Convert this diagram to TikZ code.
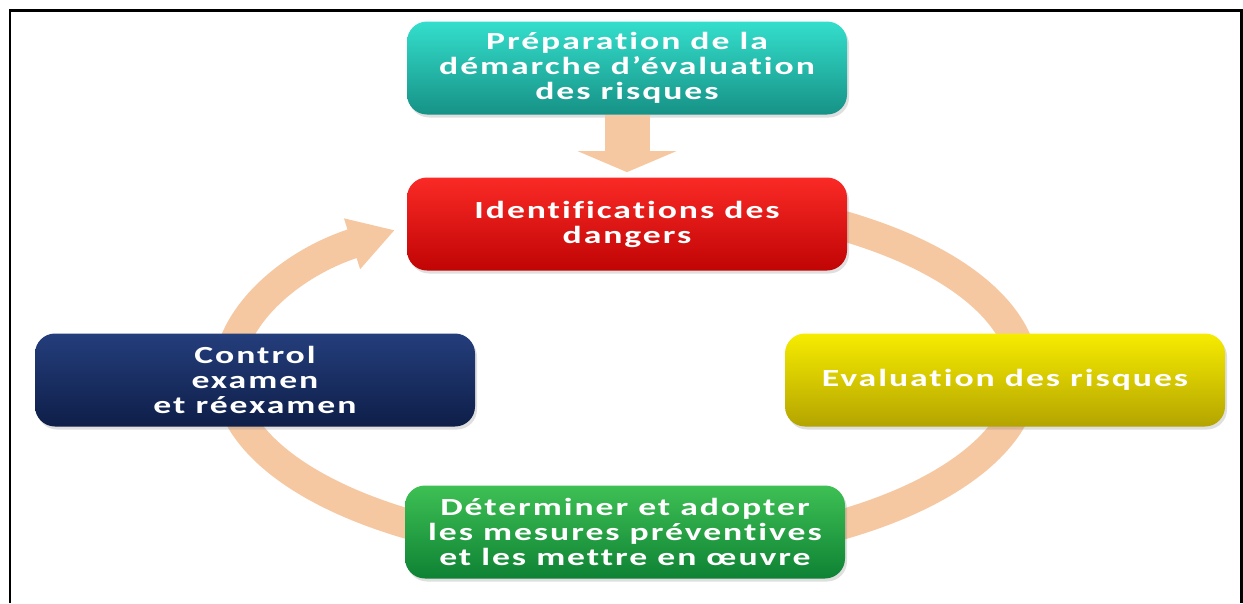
\documentclass[tikz,border=0pt]{standalone}
\usepackage{fontspec}
\setmainfont{DejaVu Sans}
\newfontfamily\etiquette[FakeStretch=1.45,LetterSpace=8,Ligatures=NoCommon]{Carlito}
\usetikzlibrary{arrows.meta,shadows}

\definecolor{anneau}{RGB}{246,200,162}
\definecolor{turqhaut}{RGB}{52,222,204}
\definecolor{turqbas}{RGB}{22,146,134}
\definecolor{rougehaut}{RGB}{250,42,38}
\definecolor{rougebas}{RGB}{192,4,4}
\definecolor{marinehaut}{RGB}{36,62,124}
\definecolor{marinebas}{RGB}{14,30,72}
\definecolor{jaunehaut}{RGB}{246,236,0}
\definecolor{jaunebas}{RGB}{180,164,0}
\definecolor{verthaut}{RGB}{62,192,84}
\definecolor{vertbas}{RGB}{14,130,52}

\tikzset{
  etape/.style={rounded corners=0.4cm, minimum width=8.8cm, minimum height=1.86cm,
    align=center, text=white, font=\etiquette\bfseries\fontsize{14}{14.2}\selectfont,
    drop shadow={opacity=0.25, shadow xshift=0.04cm, shadow yshift=-0.06cm}},
  fleche/.style={color=anneau}
}

\begin{document}
\begin{tikzpicture}
  \useasboundingbox (0,0) rectangle (24.86,-12.06);
  \draw[line width=0.06cm] (0.2,-12.06) -- (0.2,-0.2) -- (24.82,-0.2) -- (24.82,-12.06);
  % cycle
  \coordinate (centre) at (12.52,-7.5);
  \draw[fleche, line width=0.6cm, -{Triangle[width=1.0cm,length=0.9cm]}]
    ([shift={(60:7.96cm and 3.56cm)}]centre) arc[start angle=60, end angle=-234.5, x radius=7.96cm, y radius=3.56cm];

  \node[etape, top color=turqhaut, bottom color=turqbas] (prep) at (12.54,-1.36)
    {Préparation de la\\démarche d’évaluation\\des risques};
  \node[etape, top color=rougehaut, bottom color=rougebas] (ident) at (12.54,-4.48)
    {Identifications des\\dangers};
  \node[etape, top color=marinehaut, bottom color=marinebas] (ctrl) at (5.1,-7.6)
    {Control\\examen\\et réexamen};
  \node[etape, top color=jaunehaut, bottom color=jaunebas] (eval) at (20.1,-7.6)
    {Evaluation des risques};
  \node[etape, top color=verthaut, bottom color=vertbas] (mesures) at (12.5,-10.64)
    {Déterminer et adopter\\les mesures préventives\\et les mettre en œuvre};

  \draw[fleche, line width=0.9cm, -{Triangle[width=1.96cm,length=0.42cm]}, shorten >=0.1cm] (prep) -- (ident);
\end{tikzpicture}
\end{document}
